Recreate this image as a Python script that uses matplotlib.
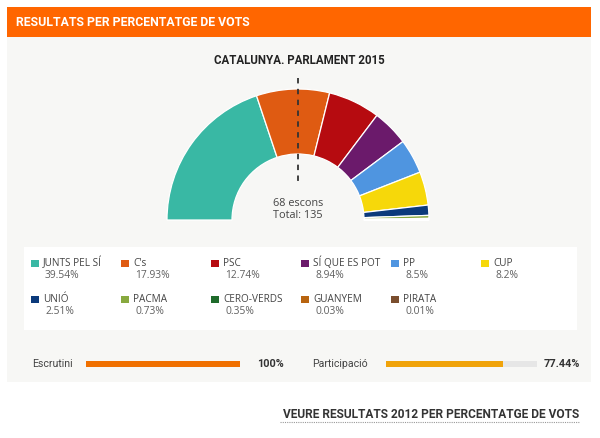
import matplotlib
matplotlib.use("Agg")
import matplotlib.pyplot as plt
from matplotlib.patches import Wedge, Rectangle

# ---- data ----
parties = ["JUNTS PEL SÍ", "C's", "PSC", "SÍ QUE ES POT", "PP", "CUP",
           "UNIÓ", "PACMA", "CERO-VERDS", "GUANYEM", "PIRATA"]
pct_values = [39.54, 17.93, 12.74, 8.94, 8.5, 8.2, 2.51, 0.73, 0.35, 0.03, 0.01]
pct_labels = ["39.54%", "17.93%", "12.74%", "8.94%", "8.5%", "8.2%",
              "2.51%", "0.73%", "0.35%", "0.03%", "0.01%"]
colors = ["#39b8a4", "#df5b12", "#b60b10", "#6b1a6b", "#4f95e0", "#f6d80a",
          "#0b3a7b", "#88a93f", "#1f6b2b", "#b8640f", "#7a4e2e"]
majority_label = "68 escons"
total_label = "Total: 135"
escrutini = 100.0
participacio = 77.44

plt.rcParams['font.family'] = ['Roboto', 'DejaVu Sans']

fig = plt.figure(figsize=(6, 4.38), dpi=100)
fig.patch.set_facecolor("white")
ax = fig.add_axes([0, 0, 1, 1])
ax.set_xlim(0, 600)
ax.set_ylim(438, 0)
ax.set_aspect("equal")
ax.axis("off")

# panels
ax.add_patch(Rectangle((7, 37), 584, 345, facecolor="#f7f7f5", edgecolor="none"))
ax.add_patch(Rectangle((7, 7), 584, 30, facecolor="#ff6600", edgecolor="none"))
ax.text(16, 22.5, "RESULTATS PER PERCENTATGE DE VOTS", color="white",
        fontsize=8.8, fontweight="bold", va="center", ha="left")

ax.text(299.5, 61, "CATALUNYA. PARLAMENT 2015", color="#222222",
        fontsize=8.3, fontweight="bold", va="center", ha="center")

# hemicycle
cx, cy, r_out, r_in = 298, 220, 131, 66
tot = sum(pct_values)
cum = 0.0
for v, c in zip(pct_values, colors):
    start = cum / tot * 180
    cum += v
    end = cum / tot * 180
    ax.add_patch(Wedge((cx, cy), r_out, start - 180, end - 180, width=r_out - r_in,
                       facecolor=c, edgecolor="white", linewidth=0.9))

ax.plot([cx, cx], [78, 185], color="#333333", lw=1.3, dashes=(3, 3))
ax.text(cx, 203, majority_label, color="#444444", fontsize=7.8,
        family=["Open Sans", "DejaVu Sans"], ha="center", va="center")
ax.text(cx, 215, total_label, color="#444444", fontsize=7.8,
        family=["Open Sans", "DejaVu Sans"], ha="center", va="center")

# legend box
ax.add_patch(Rectangle((24, 247), 553, 83, facecolor="white", edgecolor="none"))
col_x = [31, 121, 211, 301, 391, 481]
row_y = [263, 299]
for i, (name, lab, c) in enumerate(zip(parties, pct_labels, colors)):
    row, col = divmod(i, 6)
    x, y = col_x[col], row_y[row]
    ax.add_patch(Rectangle((x, y - 3.5), 7.5, 7.5, facecolor=c, edgecolor="none"))
    ax.text(x + 12, y, name, color="#444444", fontsize=7.2,
            family=["Open Sans", "DejaVu Sans"], ha="left", va="center")
    ax.text(x + 14, y + 12.5, lab, color="#606060", fontsize=7.4,
            family=["Open Sans", "DejaVu Sans"], ha="left", va="center")

# progress bars
by = 364
ax.text(32, by, "Escrutini", color="#444444", fontsize=7.6, ha="left", va="center")
ax.add_patch(Rectangle((86, by - 3), 154, 6, facecolor="#e6e6e6", edgecolor="none"))
ax.add_patch(Rectangle((86, by - 3), 154 * escrutini / 100, 6, facecolor="#f07000", edgecolor="none"))
ax.text(257, by, f"{escrutini:.0f}%", color="#333333", fontsize=7.8, fontweight="bold",
        ha="left", va="center")

ax.text(312, by, "Participació", color="#444444", fontsize=7.6, ha="left", va="center")
ax.add_patch(Rectangle((386, by - 3), 151, 6, facecolor="#e6e6e6", edgecolor="none"))
ax.add_patch(Rectangle((386, by - 3), 151 * participacio / 100, 6, facecolor="#f0a30a", edgecolor="none"))
ax.text(580, by, f"{participacio:.2f}%", color="#333333", fontsize=7.8, fontweight="bold",
        ha="right", va="center")

# link
ax.text(579, 415, "VEURE RESULTATS 2012 PER PERCENTATGE DE VOTS", color="#333333",
        fontsize=8.6, fontweight="bold", ha="right", va="center")
ax.plot([280, 579], [421.5, 421.5], color="#999999", lw=0.8, dashes=(1, 1))

fig.savefig("out.png", dpi=100, facecolor="white")
